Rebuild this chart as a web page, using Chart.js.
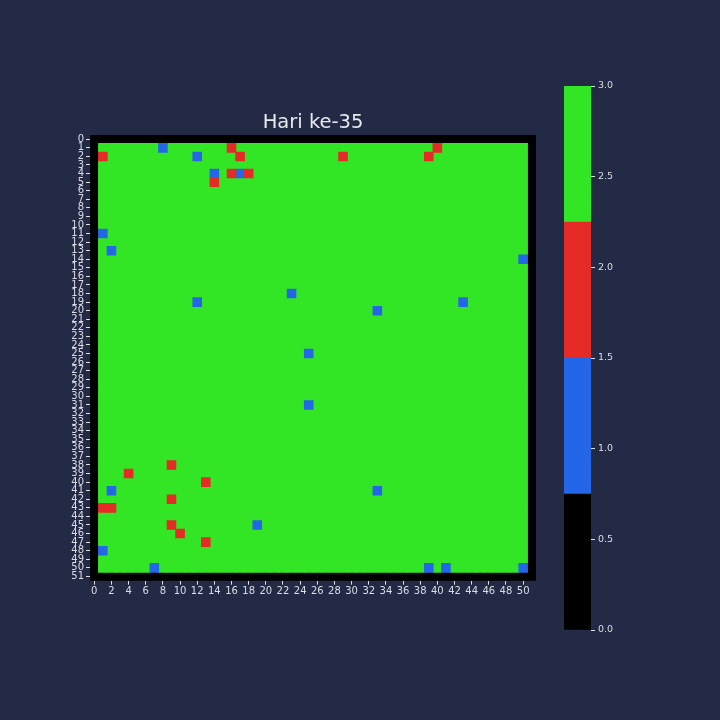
<!DOCTYPE html>
<html>
<head>
<meta charset="utf-8">
<script src="https://cdn.jsdelivr.net/npm/chart.js@4/dist/chart.umd.min.js"></script>
<style>
  html, body { margin:0; padding:0; background:#222a45; }
  #wrap { position:relative; width:720px; height:720px; }
  canvas { position:absolute; left:0; top:0; }
</style>
</head>
<body>
<div id="wrap">
  <canvas id="main" width="720" height="720"></canvas>
  <canvas id="cbar" width="720" height="720"></canvas>
</div>
<script>
// ---------------- data ----------------
const titleText = 'Hari ke-35';
const gridSize = 52;             // rows/cols 0..51
const borderValue = 0;           // outer ring (black)
const fillValue = 3;             // interior (green)
// cells with value 1 (blue): [row, col]
const blueCells = [[1,8],[2,12],[4,14],[4,17],[11,1],[13,2],[14,50],[18,23],[19,12],[19,43],[20,33],
  [25,25],[31,25],[41,2],[41,33],[45,19],[48,1],[50,7],[50,39],[50,41],[50,50]];
// cells with value 2 (red): [row, col]
const redCells = [[1,16],[1,40],[2,1],[2,17],[2,29],[2,39],[4,16],[4,18],[5,14],[38,9],[39,4],[40,13],
  [42,9],[43,1],[43,2],[45,9],[46,10],[47,13]];
const xTickLabels = [0,2,4,6,8,10,12,14,16,18,20,22,24,26,28,30,32,34,36,38,40,42,44,46,48,50];
const yTickLabels = Array.from({length: gridSize}, (_, i) => i);
const levelColors = ['#000000', '#2367e8', '#e62a26', '#33e625']; // values 0,1,2,3
const cbBounds = [0, 0.75, 1.5, 2.25, 3.0];
const cbTicks = [0, 0.5, 1.0, 1.5, 2.0, 2.5, 3.0];

// -------------- build matrix --------------
const matrix = [];
for (let r = 0; r < gridSize; r++) {
  const row = [];
  for (let c = 0; c < gridSize; c++) {
    const edge = r === 0 || c === 0 || r === gridSize - 1 || c === gridSize - 1;
    row.push(edge ? borderValue : fillValue);
  }
  matrix.push(row);
}
blueCells.forEach(([r, c]) => matrix[r][c] = 1);
redCells.forEach(([r, c]) => matrix[r][c] = 2);

const byValue = [[], [], [], []];
for (let r = 0; r < gridSize; r++)
  for (let c = 0; c < gridSize; c++)
    byValue[matrix[r][c]].push({x: c, y: r});

const TXT = '#dcdde3';
Chart.defaults.font.family = "'DejaVu Sans', sans-serif";
Chart.defaults.color = TXT;

function cellRadius(ctx) {
  const ca = ctx.chart.chartArea;
  if (!ca) return 4;
  const cw = ca.width / gridSize;
  return (cw / 2 + 0.5) / Math.SQRT1_2;
}
function mkDs(v) {
  return {
    data: byValue[v],
    backgroundColor: levelColors[v],
    borderWidth: 0,
    pointStyle: 'rect',
    pointRadius: cellRadius,
    pointHoverRadius: cellRadius,
  };
}

new Chart(document.getElementById('main'), {
  type: 'scatter',
  data: { datasets: [mkDs(2), mkDs(1), mkDs(3), mkDs(0)] },
  options: {
    responsive: false,
    animation: false,
    events: [],
    layout: { padding: { left: 70, top: 111.6, right: 164, bottom: 119.3 } },
    plugins: {
      legend: { display: false },
      tooltip: { enabled: false },
      title: {
        display: true, text: titleText, color: '#e8e9ef',
        font: { size: 19.5, weight: 'normal' },
        padding: { top: 0, bottom: 0 }
      }
    },
    scales: {
      x: {
        type: 'linear', min: -0.5, max: gridSize - 0.5, position: 'bottom',
        afterBuildTicks: s => { s.ticks = xTickLabels.map(v => ({value: v})); },
        afterFit: s => { s.height = 20; },
        ticks: { color: TXT, font: { size: 10 }, padding: 1, maxRotation: 0, autoSkip: false },
        grid: { drawOnChartArea: false, drawTicks: true, tickLength: 4, tickColor: TXT },
        border: { display: false }
      },
      y: {
        type: 'linear', min: -0.5, max: gridSize - 0.5, reverse: true, position: 'left',
        afterBuildTicks: s => { s.ticks = yTickLabels.map(v => ({value: v})); },
        afterFit: s => { s.width = 20; },
        ticks: { color: TXT, font: { size: 10 }, padding: 2, autoSkip: false },
        grid: { drawOnChartArea: false, drawTicks: true, tickLength: 4, tickColor: TXT },
        border: { display: false }
      },
      y2: {
        type: 'linear', position: 'right', display: true,
        afterFit: s => { s.width = 20; },
        ticks: { display: false }, grid: { display: false }, border: { display: false }
      }
    }
  }
});

// ---------------- colour bar ----------------
const cbDatasets = levelColors.map((col, i) => ({
  data: [cbBounds[i + 1] - cbBounds[i]],
  backgroundColor: col,
  borderWidth: 0,
  barPercentage: 1,
  categoryPercentage: 1,
  stack: 's'
}));
new Chart(document.getElementById('cbar'), {
  type: 'bar',
  data: { labels: [''], datasets: cbDatasets },
  options: {
    responsive: false,
    animation: false,
    events: [],
    layout: { padding: { left: 564, top: 86, right: 99, bottom: 90 } },
    plugins: { legend: { display: false }, tooltip: { enabled: false }, title: { display: false } },
    scales: {
      x: { display: false, stacked: true },
      y: {
        stacked: true, min: 0, max: 3, position: 'right',
        afterBuildTicks: s => { s.ticks = cbTicks.map(v => ({value: v})); },
        afterFit: s => { s.width = 30; },
        ticks: { color: TXT, font: { size: 9.5 }, padding: 3, callback: v => Number(v).toFixed(1) },
        grid: { drawOnChartArea: false, drawTicks: true, tickLength: 4, tickColor: TXT },
        border: { display: false }
      }
    }
  }
});
</script>
</body>
</html>
